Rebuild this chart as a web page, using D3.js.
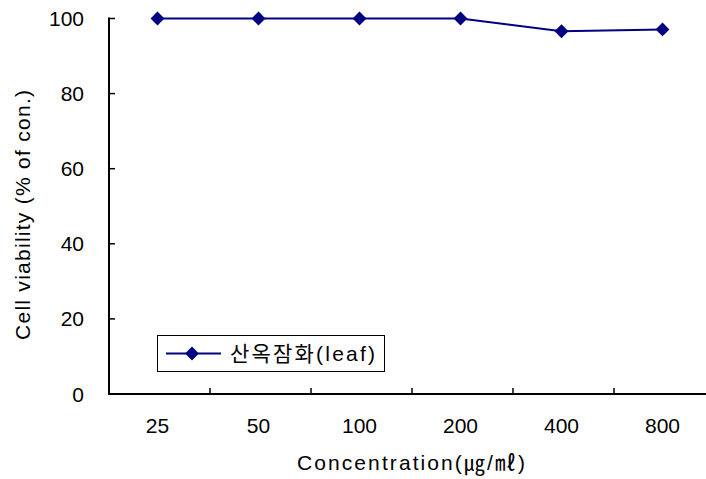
<!DOCTYPE html>
<html>
<head>
<meta charset="utf-8">
<script src="https://cdn.jsdelivr.net/npm/d3@7"></script>
<style>
  html, body { margin: 0; padding: 0; background: #fff; }
  svg { display: block; }
  text { font-family: "Liberation Sans", Arial, "Noto Sans CJK KR", sans-serif; fill: #000; }
</style>
</head>
<body>
<svg id="chart" width="706" height="479"></svg>
<script>
// Concentrations tested and relative cell viability
const concentrations = ["25", "50", "100", "200", "400", "800"];
const viability = [100, 100, 100, 100, 96.6, 97.1];
const yTicks = [0, 20, 40, 60, 80, 100];
const seriesName = "산옥잠화(leaf)";

const svg = d3.select("#chart");
const plotLeft = 109, plotTop = 18.5, plotBottom = 394, bandW = 101;
const navy = "#000080";
const fs = 21;

const x = d3.scaleBand().domain(concentrations)
  .range([plotLeft, plotLeft + bandW * concentrations.length]);
const y = d3.scaleLinear().domain([0, 100]).range([plotBottom, plotTop]);

// Y axis: line with inward ticks
svg.append("line").attr("x1", plotLeft).attr("x2", plotLeft)
  .attr("y1", plotTop - 1).attr("y2", plotBottom)
  .attr("stroke", "#000").attr("stroke-width", 2);
svg.selectAll(".ytick").data(yTicks).enter().append("line")
  .attr("x1", plotLeft).attr("x2", plotLeft + 6)
  .attr("y1", d => y(d)).attr("y2", d => y(d))
  .attr("stroke", "#000").attr("stroke-width", 1.5);
svg.selectAll(".ylab").data(yTicks).enter().append("text")
  .attr("x", 84).attr("y", d => y(d) + 7.5)
  .attr("text-anchor", "end").attr("font-size", fs)
  .text(d => d);

// X axis: line with category boundary ticks pointing up
svg.append("line").attr("x1", plotLeft - 1).attr("x2", 706)
  .attr("y1", plotBottom).attr("y2", plotBottom)
  .attr("stroke", "#000").attr("stroke-width", 2);
svg.selectAll(".xtick").data(concentrations.slice(1)).enter().append("line")
  .attr("x1", d => x(d)).attr("x2", d => x(d))
  .attr("y1", plotBottom).attr("y2", plotBottom - 6)
  .attr("stroke", "#000").attr("stroke-width", 1.5);
svg.selectAll(".xlab").data(concentrations).enter().append("text")
  .attr("x", d => x(d) + x.bandwidth() / 2 - 2).attr("y", 433)
  .attr("text-anchor", "middle").attr("font-size", fs)
  .text(d => d);

// Axis titles
svg.append("text")
  .attr("transform", "translate(30, 215) rotate(-90)")
  .attr("text-anchor", "middle").attr("font-size", fs)
  .attr("textLength", 250).attr("lengthAdjust", "spacing")
  .text("Cell viability (% of con.)");
svg.append("text")
  .attr("x", 411).attr("y", 470)
  .attr("text-anchor", "middle").attr("font-size", fs)
  .attr("textLength", 228).attr("lengthAdjust", "spacing")
  .text("Concentration(㎍/㎖)");

// Series line and diamond markers
const cx = (d, i) => x(concentrations[i]) + x.bandwidth() / 2 - 2;
const line = d3.line().x((d, i) => cx(d, i)).y(d => y(d));
svg.append("path").datum(viability)
  .attr("d", line).attr("fill", "none")
  .attr("stroke", navy).attr("stroke-width", 2);
const diamond = d3.symbol().type(d3.symbolSquare).size(96);
svg.selectAll(".pt").data(viability).enter().append("path")
  .attr("d", diamond)
  .attr("transform", (d, i) => `translate(${cx(d, i)},${y(d)}) rotate(45)`)
  .attr("fill", navy);

// Legend
const lg = svg.append("g");
lg.append("rect").attr("x", 157.5).attr("y", 335.5).attr("width", 227).attr("height", 36)
  .attr("fill", "#fff").attr("stroke", "#000").attr("stroke-width", 1);
lg.append("line").attr("x1", 166).attr("x2", 221).attr("y1", 353.5).attr("y2", 353.5)
  .attr("stroke", navy).attr("stroke-width", 2);
lg.append("path").attr("d", diamond)
  .attr("transform", "translate(192,353.5) rotate(45)").attr("fill", navy);
lg.append("text").attr("x", 230).attr("y", 361).attr("font-size", fs)
  .attr("textLength", 145).attr("lengthAdjust", "spacing")
  .text(seriesName);
</script>
</body>
</html>
